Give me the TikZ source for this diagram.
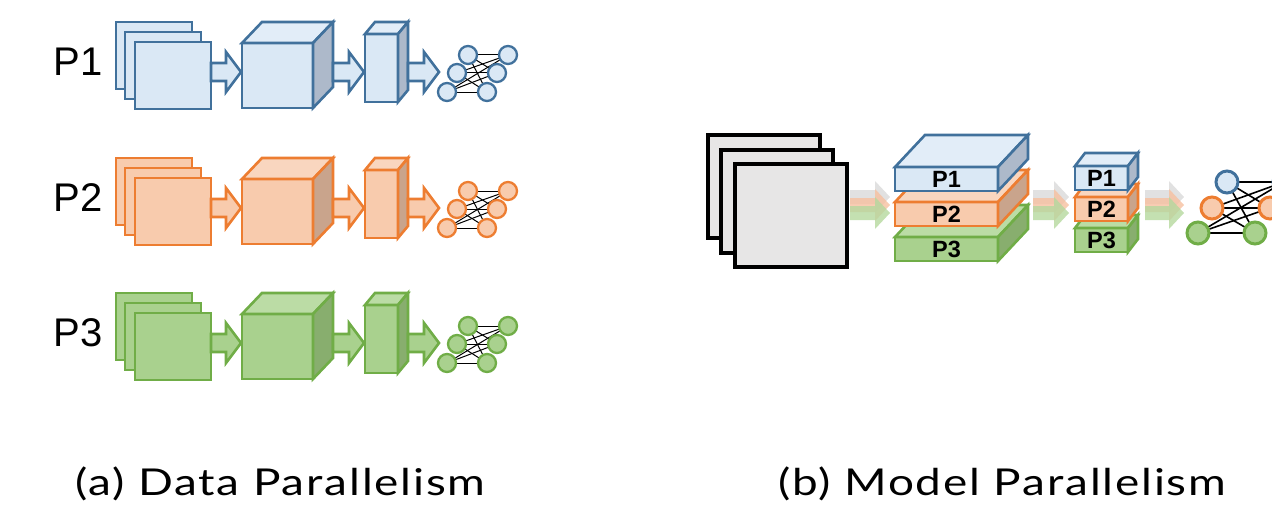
\documentclass[tikz,border=0pt]{standalone}
\usepackage{fontspec}
\setmainfont{Liberation Sans}
\newfontfamily\capfont[LetterSpace=4]{Lato}
\pgfdeclarelayer{bg}
\pgfsetlayers{bg,main}
\definecolor{bS}{HTML}{41719C}\definecolor{bF}{HTML}{DAE8F5}\definecolor{bT}{HTML}{E2EDF8}\definecolor{bR}{HTML}{ADB9CA}
\definecolor{oS}{HTML}{ED7D31}\definecolor{oF}{HTML}{F8CBAD}\definecolor{oT}{HTML}{F9D6BF}\definecolor{oR}{HTML}{C9A48C}
\definecolor{gS}{HTML}{70AD47}\definecolor{gF}{HTML}{A9D18E}\definecolor{gT}{HTML}{BBDCA5}\definecolor{gR}{HTML}{88AE6E}
\definecolor{kF}{HTML}{E7E6E6}
\definecolor{aK}{HTML}{D9D9D9}\definecolor{aO}{HTML}{F6C0A0}\definecolor{aG}{HTML}{B5D89E}
\tikzset{
  shapeln/.style={line width=2.6pt, line join=miter},
  netnode/.style={circle, inner sep=0pt, minimum size=18pt, line width=2.3pt},
  bignet/.style={circle, inner sep=0pt, minimum size=22pt, line width=3pt},
  netline/.style={black, line width=1pt},
  bignetline/.style={black, line width=1.6pt},
  rowlabel/.style={font=\fontsize{40}{46}\selectfont, inner sep=0pt},
  slablabel/.style={font=\bfseries\fontsize{23.5}{26}\selectfont, inner sep=0pt},
  caption/.style={font=\capfont\fontsize{37}{42}\selectfont, inner sep=0pt, anchor=base west},
  framebox/.style={fill=kF, draw=black, line width=3.2pt},
  fadearrow/.style={fill opacity=0.8},
}
% cube: x y w h dx dy colourprefix
\newcommand\mycube[7]{%
  \filldraw[shapeln, fill=#7F, draw=#7S] (#1,#2) rectangle ++(#3,#4);
  \filldraw[shapeln, fill=#7T, draw=#7S] (#1,#2) -- ++(#5,-#6) -- ++(#3,0) -- ++(-#5,#6) -- cycle;
  \filldraw[shapeln, fill=#7R, draw=#7S] (#1+#3,#2) -- ++(#5,-#6) -- ++(0,#4) -- ++(-#5,#6) -- cycle;
}
% block arrow: x1 x2 yc shafthalf headhalf headlen
\newcommand\blkpath[6]{(#1,#3-#4) -- (#2-#6,#3-#4) -- (#2-#6,#3-#5) -- (#2,#3) -- (#2-#6,#3+#5) -- (#2-#6,#3+#4) -- (#1,#3+#4) -- cycle}
\newcommand\datarow[3]{% yoffset prefix label
  \node[rowlabel] (lab#2) at (78,62+#1) {#3};
  \filldraw[shapeln, fill=#2F, draw=#2S] (116,22+#1) rectangle ++(76,67);
  \filldraw[shapeln, fill=#2F, draw=#2S] (125,32+#1) rectangle ++(76,67);
  \filldraw[shapeln, fill=#2F, draw=#2S] (135,42+#1) rectangle ++(76,67);
  \filldraw[shapeln, fill=#2F, draw=#2S] \blkpath{211}{241}{72+#1}{9}{20}{15};
  \mycube{242}{43+#1}{71}{65}{20}{21}{#2}
  \filldraw[shapeln, fill=#2F, draw=#2S] \blkpath{333}{364}{72+#1}{9}{20}{15};
  \mycube{365}{34+#1}{33}{68}{10}{12}{#2}
  \filldraw[shapeln, fill=#2F, draw=#2S] \blkpath{408}{439}{72+#1}{9}{20}{15};
  \node[netnode, fill=#2F, draw=#2S] (#2l1) at (468,55+#1) {};
  \node[netnode, fill=#2F, draw=#2S] (#2l2) at (457,73+#1) {};
  \node[netnode, fill=#2F, draw=#2S] (#2l3) at (447,92+#1) {};
  \node[netnode, fill=#2F, draw=#2S] (#2r1) at (508,55+#1) {};
  \node[netnode, fill=#2F, draw=#2S] (#2r2) at (497,73+#1) {};
  \node[netnode, fill=#2F, draw=#2S] (#2r3) at (487,92+#1) {};
  \begin{pgfonlayer}{bg}
    \foreach \i in {1,2,3} \foreach \j in {1,2,3} \draw[netline] (#2l\i.center) -- (#2r\j.center);
  \end{pgfonlayer}
}
\newcommand\fadedarrows[2]{% x1 x2
  \fill[aK, fadearrow] \blkpath{#1}{#2}{197}{7}{16}{15};
  \fill[aO, fadearrow] \blkpath{#1}{#2}{205}{7}{16}{15};
  \fill[aG, fadearrow] \blkpath{#1}{#2}{213}{7}{16}{15};
}
\begin{document}
\begin{tikzpicture}[x=1pt, y=-1pt]
\useasboundingbox (0,0) rectangle (1272,511);
\clip (0,0) rectangle (1272,511);
% (a) data parallelism
\datarow{0}{b}{P1}
\datarow{136}{o}{P2}
\datarow{271}{g}{P3}
% (b) model parallelism: input frames
\filldraw[framebox] (708,135) rectangle ++(112,103);
\filldraw[framebox] (721,150) rectangle ++(112,103);
\filldraw[framebox] (735,164) rectangle ++(112,103);
\fadedarrows{850}{890}
% big slabs
\mycube{895}{237}{103}{24}{30}{32}{g}
\mycube{895}{202}{103}{24}{30}{32}{o}
\mycube{895}{167}{103}{24}{30}{32}{b}
\node[slablabel] (bp1) at (946.5,179) {P1};
\node[slablabel] (bp2) at (946.5,214) {P2};
\node[slablabel] (bp3) at (946.5,249) {P3};
\fadedarrows{1033}{1069}
% small slabs
\mycube{1075}{228}{53}{24}{10}{13}{g}
\mycube{1075}{197}{53}{24}{10}{13}{o}
\mycube{1075}{166}{53}{24}{10}{13}{b}
\node[slablabel] (sp1) at (1101.5,178) {P1};
\node[slablabel] (sp2) at (1101.5,209) {P2};
\node[slablabel] (sp3) at (1101.5,240) {P3};
\fadedarrows{1145}{1184}
% network
\node[bignet, fill=bF, draw=bS] (ml1) at (1227,182) {};
\node[bignet, fill=oF, draw=oS] (ml2) at (1212,208) {};
\node[bignet, fill=gF, draw=gS] (ml3) at (1198,233) {};
\node[bignet, fill=bF, draw=bS] (mr1) at (1284,182) {};
\node[bignet, fill=oF, draw=oS] (mr2) at (1270,208) {};
\node[bignet, fill=gF, draw=gS] (mr3) at (1255,233) {};
\begin{pgfonlayer}{bg}
  \foreach \i in {1,2,3} \foreach \j in {1,2,3} \draw[bignetline] (ml\i.center) -- (mr\j.center);
\end{pgfonlayer}
% captions
\node[caption] (capa) at (75,495) {\scalebox{1.24}[1]{(a) Data Parallelism}};
\node[caption] (capb) at (778,495) {\scalebox{1.24}[1]{(b) Model Parallelism}};
\end{tikzpicture}
\end{document}
